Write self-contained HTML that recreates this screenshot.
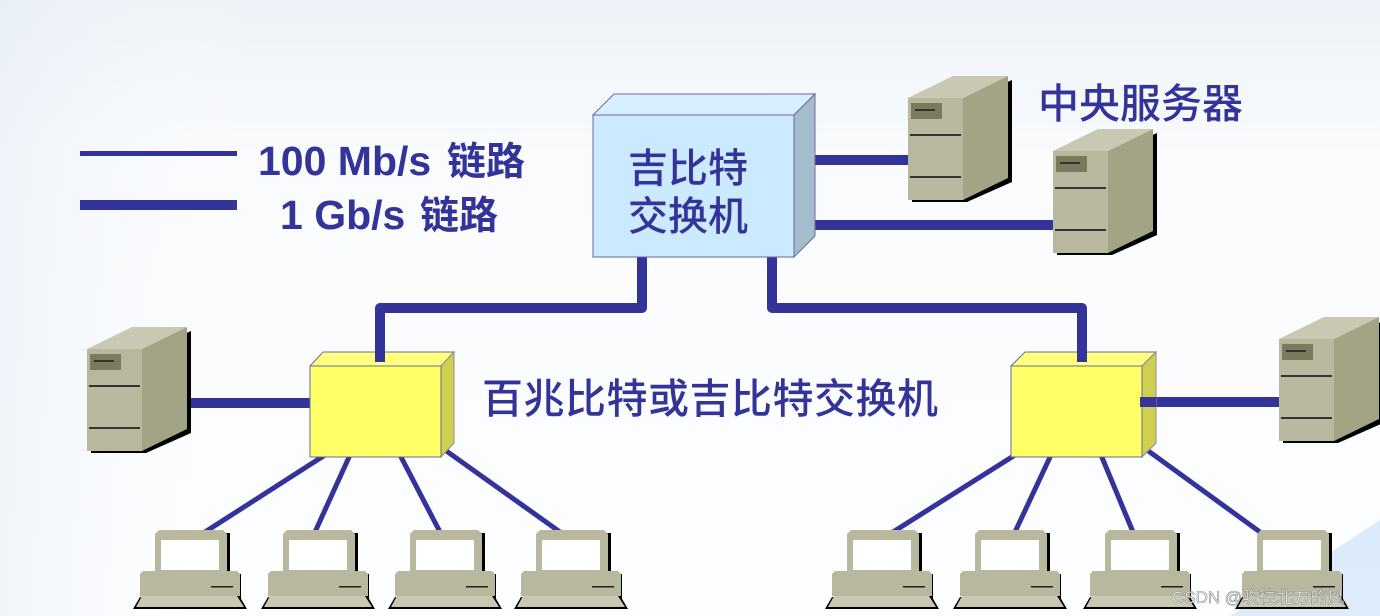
<!DOCTYPE html>
<html><head><meta charset="utf-8"><style>
html,body{margin:0;padding:0;background:#fff}
svg{display:block}
text{font-family:"Liberation Sans","Noto Sans CJK SC",sans-serif;fill:#333399}
</style></head><body>
<svg width="1380" height="616" viewBox="0 0 1380 616" xmlns="http://www.w3.org/2000/svg">
<defs>
<linearGradient id="bg" x1="0" y1="0" x2="0" y2="1">
<stop offset="0" stop-color="#edf2f8"/><stop offset="0.25" stop-color="#f9fbfd"/><stop offset="1" stop-color="#fdfeff"/>
</linearGradient>
<linearGradient id="lg" x1="0" y1="0" x2="1" y2="0">
<stop offset="0" stop-color="#e4ecf6"/><stop offset="1" stop-color="#ffffff" stop-opacity="0"/>
</linearGradient>
<g id="srv">
<polygon points="4,24 59,24 59,126 4,126" fill="#000"/>
<polygon points="59,24 104,4 104,106 59,126" fill="#000"/>
<polygon points="0,22 45,0 100,0 55,22" fill="#c9c9b3"/>
<polygon points="55,22 100,0 100,102 55,124" fill="#a3a386"/>
<rect x="0" y="22" width="55" height="102" fill="#b8b89e"/>
<rect x="3" y="27" width="31" height="16" fill="#7a7a5e"/>
<rect x="7" y="33" width="20" height="2" fill="#333"/>
<rect x="2" y="58" width="51" height="2" fill="#333"/>
<rect x="2" y="100" width="51" height="2" fill="#333"/>
</g>
<g id="pc">
<rect x="3" y="3" width="72" height="43" fill="#000"/>
<polygon points="0,4 4,0 68,0 72,4 72,43 0,43" fill="#b8b89e"/>
<rect x="6" y="10" width="58" height="30" fill="#fff"/>
<rect x="-12" y="44" width="98" height="25" fill="#000"/>
<polygon points="-15,44 -12,41 82,41 85,44 85,66 -15,66" fill="#b8b89e"/>
<rect x="56" y="56" width="22" height="1.5" fill="#222"/>
<polygon points="-15,67 85,67 92,79 -22,79" fill="#000"/>
<polygon points="-13,66 82,66 89,77 -19,77" fill="#c9c9b3"/>
</g>
</defs>
<rect width="1380" height="616" fill="url(#bg)"/>
<rect width="260" height="616" fill="url(#lg)" opacity="0.5"/>
<path d="M1230,616 Q1320,560 1380,520 L1380,616Z" fill="#cfe3fa" opacity="0.7"/>

<!-- legend -->
<rect x="80" y="151" width="157" height="5" fill="#333399"/>
<rect x="80" y="200" width="157" height="10" fill="#333399"/>
<text x="258" y="175" font-size="41" font-weight="bold">100 Mb/s</text>
<text x="447" y="175" font-size="39" font-weight="bold">链路</text>
<text x="280" y="229" font-size="41" font-weight="bold">1 Gb/s</text>
<text x="420" y="229" font-size="39" font-weight="bold">链路</text>

<!-- thick links -->
<g fill="none" stroke="#333399" stroke-width="10" stroke-linejoin="round">
<polyline points="642,257 642,308 380,308 380,362"/>
<polyline points="772,257 772,308 1082,308 1082,362"/>
<line x1="812" y1="160" x2="910" y2="160"/>
<line x1="812" y1="225" x2="1055" y2="225"/>
<line x1="187" y1="403" x2="312" y2="403"/>
<line x1="1140" y1="402" x2="1280" y2="402"/>
</g>
<!-- thin links -->
<g stroke="#333399" stroke-width="5">
<line x1="325" y1="455" x2="205" y2="532"/>
<line x1="350" y1="455" x2="315" y2="532"/>
<line x1="400" y1="455" x2="440" y2="532"/>
<line x1="445" y1="450" x2="560" y2="532"/>
<line x1="1015" y1="455" x2="893" y2="532"/>
<line x1="1051" y1="455" x2="1015" y2="532"/>
<line x1="1101" y1="455" x2="1133" y2="532"/>
<line x1="1147" y1="450" x2="1260" y2="532"/>
</g>

<!-- central switch -->
<polygon points="593,115 614,94 815,94 794,115" fill="#d8efff" stroke="#6a6a9a" stroke-width="1"/>
<polygon points="794,115 815,94 815,236 794,257" fill="#a4bccc" stroke="#6a6a9a" stroke-width="1"/>
<rect x="593" y="115" width="201" height="142" fill="#cceaff" stroke="#6a6a9a" stroke-width="1"/>
<text x="688" y="182" font-size="40" font-weight="500" text-anchor="middle">吉比特</text>
<text x="688" y="230" font-size="40" font-weight="500" text-anchor="middle">交换机</text>

<!-- yellow switches -->
<g>
<polygon points="310,366 323,352 454,352 441,366" fill="#ffff80" stroke="#6a6a9a"/>
<polygon points="441,366 454,352 454,443 441,457" fill="#d0d050" stroke="#8a8a9a"/>
<rect x="310" y="366" width="131" height="91" fill="#ffff66" stroke="#6a6a9a"/>
<rect x="375" y="345" width="10" height="17" fill="#333399"/>
</g>
<g>
<polygon points="1011,366 1025,352 1156,352 1142,366" fill="#ffff80" stroke="#6a6a9a"/>
<polygon points="1142,366 1156,352 1156,443 1142,457" fill="#d0d050" stroke="#8a8a9a"/>
<rect x="1011" y="366" width="131" height="91" fill="#ffff66" stroke="#6a6a9a"/>
<rect x="1077" y="345" width="10" height="17" fill="#333399"/>
<rect x="1140" y="397" width="16" height="10" fill="#333399"/>
</g>
<text x="482" y="413" font-size="41" font-weight="500" textLength="456">百兆比特或吉比特交换机</text>

<!-- servers -->
<use href="#srv" x="908" y="76"/>
<use href="#srv" x="1053" y="129"/>
<use href="#srv" x="87" y="327"/>
<use href="#srv" x="1279" y="317"/>
<text x="1038" y="118" font-size="41" font-weight="500" textLength="205">中央服务器</text>

<!-- PCs -->
<use href="#pc" x="155" y="530"/>
<use href="#pc" x="283" y="530"/>
<use href="#pc" x="410" y="530"/>
<use href="#pc" x="536" y="530"/>
<use href="#pc" x="847" y="530"/>
<use href="#pc" x="975" y="530"/>
<use href="#pc" x="1105" y="530"/>
<use href="#pc" x="1257" y="530"/>

<text x="1172" y="603" font-size="17" style="fill:#ffffff;stroke:#888;stroke-width:0.6">CSDN @吹往北方的风</text>
</svg>
</body></html>
